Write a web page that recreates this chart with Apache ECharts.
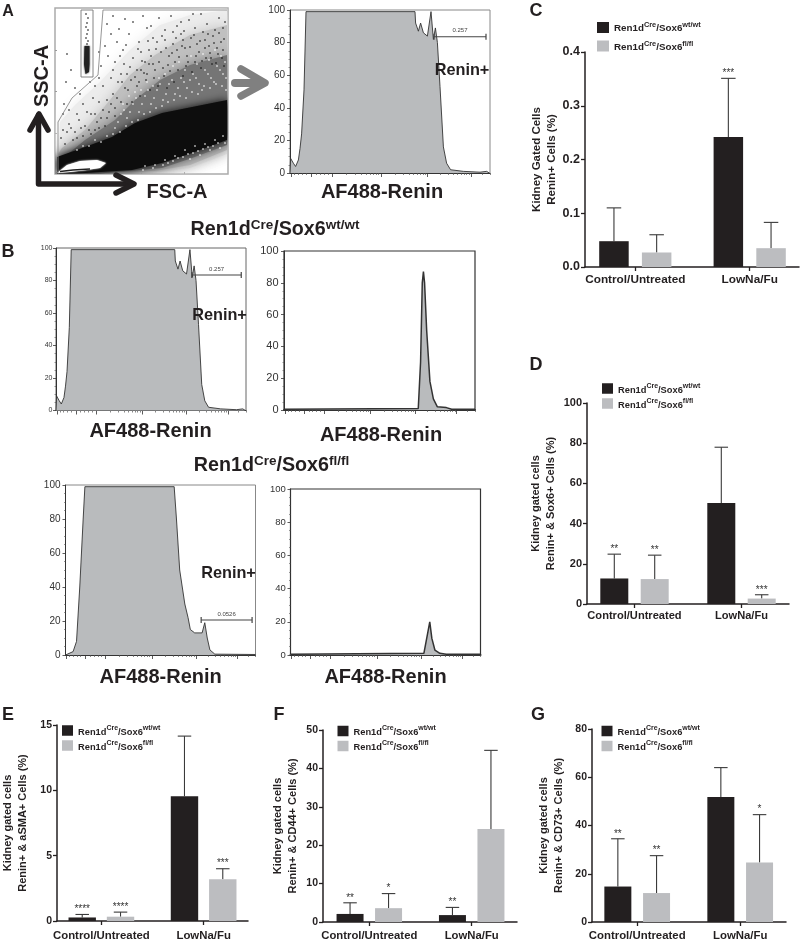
<!DOCTYPE html>
<html><head><meta charset="utf-8">
<style>html,body{margin:0;padding:0;background:#fff}#c{width:800px;height:944px}</style>
<script src="https://cdn.jsdelivr.net/npm/echarts@6/dist/echarts.min.js"></script>
</head><body><div id="c"></div>
<script>
// ---------- DATA ----------
const groups = ['Control/Untreated', 'LowNa/Fu'];
const wtName = 'Ren1d-Cre/Sox6 wt/wt';
const flName = 'Ren1d-Cre/Sox6 fl/fl';

const cWt=[0.048,0.242], cWtErr=[0.11,0.351], cWtSig=['','***'];
const cFl=[0.027,0.035], cFlErr=[0.06,0.083], cFlSig=['',''];
const dWt=[12.7,50.2], dWtErr=[24.8,78], dWtSig=['**',''];
const dFl=[12.4,2.7], dFlErr=[24.3,4.6], dFlSig=['**','***'];
const eWt=[0.27,9.55], eWtErr=[0.5,14.15], eWtSig=['****',''];
const eFl=[0.33,3.2], eFlErr=[0.68,4.0], eFlSig=['****','***'];
const fWt=[2.1,1.8], fWtErr=[5.0,3.8], fWtSig=['**','**'];
const fFl=[3.6,24.2], fFlErr=[7.4,44.7], fFlSig=['*',''];
const gWt=[14.7,51.8], gWtErr=[34.5,64], gWtSig=['**',''];
const gFl=[12.0,24.7], gFlErr=[27.5,44.5], gFlSig=['**','*'];

// histograms: [intensity scale %, % of max]
const histWide=[[0,0],[0.3,9],[1.7,6],[2.8,4],[4.2,8],[5,15],[5.8,24],[7,51],[8,99],[62.5,99],[62.8,92],[64.2,87],[65.3,92],[66.7,86],[68.7,84],[70.5,99],[71.7,82],[72.7,89],[73.7,80],[75,53],[76.7,16],[78.3,6],[80.3,2],[86.7,1],[95,0.5],[98.3,1],[99.7,0],[100,0]];
const histNarrow=[[0,0.5],[70.3,1],[71.5,30],[72.4,80],[73,87],[73.6,80],[74.7,50],[76.4,18],[78.2,7],[80.3,2],[85,1.5],[87.8,0.5],[100,0.5]];
const histWideFl=[[0,0],[4,2],[5.8,8],[7.5,40],[9.3,80],[10.2,99],[57.2,99],[58.4,80],[60.1,50],[62.8,30],[63.3,30],[64.5,22],[65.7,15],[68,13],[71.9,13],[73.3,19],[74.6,10],[76,3],[78.6,0.5],[100,0.3]];
const histNarrowFl=[[0,0.5],[70.2,1],[72,12],[73.3,20],[74.4,10],[76,3],[78.6,1],[82,0.5],[100,0.5]];
const majorTicks=[0.5,10.5,21,45.4,68.6,90.4];
const minorTicks=[2,4,6,8,13,15,17,19,28.3,32.6,35.7,38,40,41.6,43,44.3,52.4,56.5,59.4,61.6,63.5,65,66.4,67.6,75.2,79,81.7,83.8,85.6,87,88.3,89.4,96,100];

// FSC/SSC density regions (FSC, SSC in scale units)
const fsDensity1=[[3,4],[5,52],[20,69],[45,92],[75,124],[105,149],[135,159],[172,164],[172,20],[135,6],[95,1],[3,0]];
const fsDensity2=[[3,20],[7,26],[30,44],[55,74],[75,99],[100,119],[135,139],[172,149],[172,24],[135,9],[100,3],[3,0]];
const fsDensity3=[[3,12],[30,34],[60,54],[80,74],[105,94],[135,109],[172,119],[172,29],[137,16],[107,6],[45,0.5],[3,0]];
const fsCore=[[2,17],[30,27],[57,37],[80,51],[107,61],[137,67],[172,74],[172,34],[137,21],[107,11],[77,4],[30,1],[2,0]];
const fsHole=[[2,1],[12,9],[25,13],[42,14],[51,11],[45,6],[32,4],[15,2]];
const fsHoleLine=[[5,2.5],[18,4],[35,5]];
const fsStreak=[[29.5,128],[34.5,128],[34.5,110],[34,102],[30.5,100],[29,110]];
const gateOuter=[[3,0],[3,52],[17,76],[43,99],[48,164],[172,164]];
const gateBox=[[26,97],[26,164],[38,164],[38,97],[26,97]];
const fsDotsBlack=[[31,160],[33,156],[32,151],[31,147],[33,144],[32,140],[31,136],[33,133],[32,130],[12,120],[16,104],[11,92],[20,86],[9,70],[25,80],[14,64],[22,60],[8,60],[28,70],[35,92],[40,88],[44,96],
[52,150],[58,158],[64,145],[70,155],[62,132],[68,124],[74,140],[78,152],[84,132],[88,158],[92,146],[98,136],[104,156],[110,144],[116,158],[122,148],[128,134],[134,154],[140,146],[146,160],[152,150],[158,138],[164,156],[168,146],
[53,118],[58,104],[63,92],[69,110],[72,100],[78,116],[82,104],[86,122],[90,112],[94,124],[98,110],[102,132],[106,122],[110,134],[114,118],[118,130],[122,124],[126,140],[130,126],[136,136],[142,130],[148,142],[154,128],[160,144],[166,132],[170,152],
[14,50],[20,42],[24,54],[30,48],[36,60],[42,52],[48,64],[52,74],[58,80],[44,72],[38,76],[32,62],[18,34],[10,30],[12,42],[6,36],[28,38],[40,44],[50,48],[66,72],[70,86],[76,94],[60,66],[84,92],[92,100],[100,104],
[96,148],[108,106],[120,112],[132,118],[144,122],[156,116],[168,124],[118,142],[126,152],[138,160],[150,134],[162,126],[46,108],[50,128],[56,140],[44,122],[48,88],[56,96],[60,112],[66,100],
[65,118],[71,129],[75,107],[80,97],[83,125],[87,113],[89,101],[93,133],[96,118],[101,125],[104,112],[107,138],[111,126],[113,109],[117,121],[121,136],[124,117],[127,128],[129,143],[133,112],[135,127],[139,139],[141,118],[145,133],[147,113],[150,126],[153,140],[155,121],[159,131],[161,111],[164,141],[167,116],[169,135],
[62,76],[67,92],[73,84],[77,72],[82,88],[85,78],[91,94],[95,84],[99,96],[103,88],[109,98],[112,86],[115,103],[119,92],[123,104],[128,98],[131,108],[137,102],[140,112],[146,106],[151,116],[157,110],[163,120],[169,108],
[34,44],[26,46],[16,46],[22,36],[8,44],[46,56],[54,62],[40,60],[56,70],[72,70],[86,104],[94,110],[36,40],[44,46],[60,58],[52,56]];
const fsDotsWhite=[[60,46],[66,60],[72,56],[78,70],[84,62],[90,78],[96,70],[102,84],[108,74],[114,90],[120,80],[126,96],[132,86],[138,100],[144,90],[150,104],[156,96],[162,108],[168,100],[170,112],
[110,100],[118,108],[124,112],[130,104],[136,118],[142,110],[148,120],[154,114],[160,124],[166,118],[92,92],[98,88],[104,96],[86,84],[80,82],[74,78],[68,70],[140,28],[150,30],[160,34],[168,38],[130,24],[120,18],[110,14],[100,9],[90,8],[165,26],[155,24],[145,19],[135,15],
[63,52],[69,64],[75,62],[81,76],[87,70],[93,84],[99,76],[105,90],[111,80],[117,94],[123,86],[129,92],[135,94],[141,96],[147,84],[153,100],[159,92],[165,104],[171,96],[113,72],[119,74],[125,78],[131,76],[137,82],[143,80],[149,88],[155,86],[161,90],[167,88],[171,84],
[107,68],[101,66],[95,62],[89,60],[83,54],[77,52],[71,48],[65,42],[58,40],[52,38],[46,32],[40,34],[34,28],[28,28],[22,24],[158,28],[148,25],[138,21],[128,17],[118,13],[108,9],[98,6],[88,4],[170,31],[163,31],[153,27],[143,23],[133,20],[123,16],[113,11]];

// ---------- LAYOUT ----------
const textCol='#231f20', darkBar='#231f20', lightBar='#bcbdc0', histFill='#b9bbbd';
const font='"Liberation Sans", Arial, sans-serif';
const grid=[],xAxis=[],yAxis=[],series=[],legend=[],graphic=[];

function text(t,x,y,size,opts){
  graphic.push({type:'text',x,y,rotation:(opts&&opts.rot)||0,silent:true,z:50,style:Object.assign({text:t,fontFamily:font,fontSize:size,fontWeight:'bold',fill:textCol,textAlign:'center',textVerticalAlign:'middle'},opts&&opts.style)});
}
function poly(points,stroke,width){
  graphic.push({type:'polyline',silent:true,z:40,shape:{points},style:{stroke,lineWidth:width,fill:'none',lineCap:'round',lineJoin:'round'}});
}

function histPanel(p){
  const g=grid.length;
  grid.push({left:p.L,top:p.T,width:p.W,height:p.H,show:true,borderColor:p.border||'#666',borderWidth:p.bw||1,backgroundColor:'#fff'});
  const xi=xAxis.length;
  xAxis.push({type:'value',gridIndex:g,min:0,max:100,position:'bottom',splitLine:{show:false},axisLabel:{show:false},
    axisLine:{show:true,onZero:false,lineStyle:{color:'#333',width:p.base||1}},
    axisTick:{show:true,length:4,customValues:majorTicks,lineStyle:{color:'#333',width:0.8}}});
  xAxis.push({type:'value',gridIndex:g,min:0,max:100,position:'bottom',splitLine:{show:false},axisLabel:{show:false},
    axisLine:{show:false},axisTick:{show:true,length:2,customValues:minorTicks,lineStyle:{color:'#555',width:0.7}}});
  const yi=yAxis.length;
  yAxis.push({type:'value',gridIndex:g,min:0,max:100,interval:20,splitLine:{show:false},
    axisLine:{show:true,onZero:false,lineStyle:{color:'#333',width:1}},
    axisTick:{show:true,length:3,lineStyle:{color:'#333',width:0.8}},
    minorTick:{show:true,splitNumber:4,length:1.5,lineStyle:{color:'#555',width:0.6}},
    axisLabel:{fontFamily:font,fontSize:p.fs,color:'#333',margin:p.fs*0.5}});
  series.push({type:'line',xAxisIndex:xi,yAxisIndex:yi,data:p.data,symbol:'none',lineStyle:{color:'#333',width:p.lineW||0.9},areaStyle:{color:histFill,opacity:1},silent:true,z:3});
  if(p.gate){
    const gt=p.gate;
    series.push({type:'custom',xAxisIndex:xi,yAxisIndex:yi,data:[gt],silent:true,z:5,clip:false,
      encode:{x:[0,1],y:2},
      renderItem:(ctx,api)=>{
        const a=api.coord([api.value(0),api.value(2)]), b=api.coord([api.value(1),api.value(2)]);
        const s={stroke:'#444',lineWidth:1.2};
        return {type:'group',children:[
          {type:'line',shape:{x1:a[0],y1:a[1],x2:b[0],y2:b[1]},style:s},
          {type:'line',shape:{x1:a[0],y1:a[1]-3,x2:a[0],y2:a[1]+3},style:s},
          {type:'line',shape:{x1:b[0],y1:b[1]-3,x2:b[0],y2:b[1]+3},style:s},
          {type:'text',style:{x:(a[0]+b[0])/2,y:a[1]-6,text:p.gateLabel,fontFamily:font,fontSize:6,fill:'#444',textAlign:'center',textVerticalAlign:'middle'}}
        ]};
      }});
  }
}

function barPanel(p){
  const g=grid.length;
  const band=p.c1-p.c0, off=p.spread/2/band;
  const xMin=(p.L-p.c0)/band, xMax=(p.L+p.W-p.c0)/band;
  grid.push({left:p.L,top:p.T,width:p.W,height:p.H,show:false});
  const xi=xAxis.length, yi=yAxis.length;
  xAxis.push({type:'value',gridIndex:g,min:xMin,max:xMax,splitLine:{show:false},
    axisLine:{show:true,onZero:false,lineStyle:{color:textCol,width:1.5}},
    axisTick:{show:true,length:4,customValues:[0,1],lineStyle:{color:textCol,width:1.3}},
    axisLabel:{customValues:[0,1],formatter:v=>groups[Math.round(v)],hideOverlap:false,showMinLabel:true,showMaxLabel:true,
      fontFamily:font,fontWeight:'bold',fontSize:p.xfs,color:textCol,margin:p.xm}});
  yAxis.push({type:'value',gridIndex:g,min:0,max:p.max,interval:p.step,splitLine:{show:false},
    name:p.title,nameLocation:'middle',nameGap:p.nameGap,nameRotate:90,
    nameTextStyle:{fontFamily:font,fontWeight:'bold',fontSize:p.nfs,color:textCol,lineHeight:14.5},
    axisLine:{show:true,onZero:false,lineStyle:{color:textCol,width:1.5}},
    axisTick:{show:true,length:4,lineStyle:{color:textCol,width:1.3}},
    axisLabel:{fontFamily:font,fontWeight:'bold',fontSize:p.yfs,color:textCol,margin:5,
      formatter:p.fmt||(v=>String(v))}});
  const make=(name,col,vals,sign)=>({type:'bar',name,xAxisIndex:xi,yAxisIndex:yi,
    data:vals.map((v,i)=>[i+sign*off,v]),barWidth:p.barW,barGap:'-100%',silent:true,
    itemStyle:{color:col},z:3});
  series.push(make(wtName,darkBar,p.wt,-1),make(flName,lightBar,p.fl,1));
  const errs=(vals,tops,sigs,sign)=>vals.map((v,i)=>[i+sign*off,v,tops[i],sigs[i]]);
  const ed=[...errs(p.wt,p.wtErr,p.wtSig,-1),...errs(p.fl,p.flErr,p.flSig,1)];
  series.push({type:'custom',xAxisIndex:xi,yAxisIndex:yi,silent:true,z:2,clip:false,data:ed,encode:{x:0,y:[1,2]},
    renderItem:(ctx,api)=>{
      const x=api.value(0), a=api.coord([x,api.value(1)]), b=api.coord([x,api.value(2)]);
      const sig=ed[ctx.dataIndex][3];
      const s={stroke:'#3a3a3a',lineWidth:1.1}, hw=p.capW/2;
      const ch=[{type:'line',shape:{x1:a[0],y1:a[1],x2:b[0],y2:b[1]},style:s},
        {type:'line',shape:{x1:b[0]-hw,y1:b[1],x2:b[0]+hw,y2:b[1]},style:s}];
      if(sig) ch.push({type:'text',style:{x:b[0],y:b[1]-5,text:sig,fontFamily:font,fontSize:10,fill:'#333',textAlign:'center',textVerticalAlign:'middle'}});
      return {type:'group',children:ch};
    }});
  legend.push({show:true,left:p.lx,top:p.ly,padding:0,orient:'vertical',itemWidth:p.lw,itemHeight:p.lh,itemGap:p.lgap,selectedMode:false,
    data:[{name:wtName,icon:'rect'},{name:flName,icon:'rect'}],
    formatter:n=>n===wtName?'{a|Ren1d}{s|Cre}{a|/Sox6}{s|wt/wt}':'{a|Ren1d}{s|Cre}{a|/Sox6}{s|fl/fl}',
    textStyle:{fontFamily:font,color:textCol,rich:{
      a:{fontFamily:font,fontWeight:'bold',fontSize:p.lfs,color:textCol,verticalAlign:'bottom',lineHeight:12},
      s:{fontFamily:font,fontWeight:'bold',fontSize:p.lfs*0.75,color:textCol,verticalAlign:'top',lineHeight:8}}}});
}

// ---------- FSC/SSC panel ----------
(function(){
  const g=grid.length;
  grid.push({left:55,top:8,width:173,height:166,show:true,borderColor:'#aaa',borderWidth:1.5,backgroundColor:'#fff'});
  const xi=xAxis.length, yi=yAxis.length;
  xAxis.push({type:'value',gridIndex:g,min:0,max:173,splitLine:{show:false},axisLabel:{show:false},axisLine:{show:false},
    axisTick:{show:true,length:2,customValues:[1,43,86,129],inside:true,lineStyle:{color:'#999'}}});
  yAxis.push({type:'value',gridIndex:g,min:0,max:166,splitLine:{show:false},axisLabel:{show:false},axisLine:{show:false},
    axisTick:{show:true,length:2,customValues:[1,41,83,124],inside:true,lineStyle:{color:'#999'}}});
  const region=(pts,fill,z,blur)=>series.push({type:'custom',xAxisIndex:xi,yAxisIndex:yi,silent:true,z,data:[0],clip:true,
    renderItem:(ctx,api)=>({type:'polygon',shape:{points:pts.map(q=>api.coord(q))},style:{fill,shadowBlur:blur,shadowColor:fill}})});
  region(fsDensity1,'#ececec',2,14);
  region(fsDensity2,'#c0c0c0',2.1,14);
  region(fsDensity3,'#757575',2.2,14);
  region(fsCore,'#0d0d0d',2.3,8);
  region(fsHole,'#ffffff',2.4,2);
  region(fsStreak,'#222222',2.5,2);
  const dots=(d,col,z)=>series.push({type:'scatter',xAxisIndex:xi,yAxisIndex:yi,data:d,symbol:'rect',symbolSize:1.6,silent:true,z,itemStyle:{color:col}});
  dots(fsDotsWhite,'#ffffff',2.6);
  dots(fsDotsBlack,'#111111',2.7);
  const path=(d,col,w,z)=>series.push({type:'line',xAxisIndex:xi,yAxisIndex:yi,data:d,symbol:'none',silent:true,z,lineStyle:{color:col,width:w}});
  path(fsHoleLine,'#222',1.4,2.8);
  path(gateOuter,'#8a8a8a',0.9,2.9);
  path(gateBox,'#777',0.9,2.9);
})();

// ---------- histograms ----------
histPanel({L:290,T:10,W:200,H:163,fs:10,data:histWide,gate:[72,98,83.6],gateLabel:'0.257',border:'#888'});
histPanel({L:56,T:248,W:190,H:162.5,fs:7,data:histWide,gate:[71.5,97.5,83.4],gateLabel:'0.257',border:'#666'});
histPanel({L:284,T:251,W:191,H:159,fs:11,data:histNarrow,border:'#333',bw:1.2,base:2,lineW:1.5});
histPanel({L:65.5,T:485,W:190,H:170,fs:10,data:histWideFl,gate:[71.4,98.2,20.6],gateLabel:'0.0526',border:'#888'});
histPanel({L:290.5,T:489,W:190,H:166,fs:9.5,data:histNarrowFl,border:'#333',bw:1.2,base:2,lineW:1.5});

// ---------- bar panels ----------
barPanel({L:585,T:52,W:214,H:215,c0:635.3,c1:749.7,spread:42.7,barW:29.5,capW:14.5,max:0.4,step:0.1,fmt:v=>v.toFixed(1),
  wt:cWt,wtErr:cWtErr,wtSig:cWtSig,fl:cFl,flErr:cFlErr,flSig:cFlSig,title:'Kidney Gated Cells\nRenin+ Cells (%)',nameGap:26,nfs:11.5,xfs:11.8,yfs:12.5,xm:7,
  lx:597,ly:21.5,lw:12,lh:11,lgap:6.5,lfs:9.8});
barPanel({L:587,T:403,W:202,H:201,c0:634.5,c1:741.5,spread:40.4,barW:28,capW:13.5,max:100,step:20,
  wt:dWt,wtErr:dWtErr,wtSig:dWtSig,fl:dFl,flErr:dFlErr,flSig:dFlSig,title:'Kidney gated cells\nRenin+ & Sox6+ Cells (%)',nameGap:29,nfs:11,xfs:11.1,yfs:11,xm:6,
  lx:602,ly:382.5,lw:11,lh:10.5,lgap:3,lfs:9.3});
barPanel({L:53,T:725,W:195,H:196,c0:98.3,c1:202.7,spread:39.1,barW:27.4,capW:13.5,max:15,step:5,
  wt:eWt,wtErr:eWtErr,wtSig:eWtSig,fl:eFl,flErr:eFlErr,flSig:eFlSig,title:'Kidney gated cells\nRenin+ & aSMA+ Cells (%)',nameGap:27,nfs:11,xfs:11.4,yfs:10.5,xm:9,
  lx:62,ly:724.5,lw:11,lh:10.5,lgap:3,lfs:9.3});
barPanel({L:323,T:730,W:194,H:192,c0:369.3,c1:471.7,spread:38.5,barW:27,capW:13.5,max:50,step:10,
  wt:fWt,wtErr:fWtErr,wtSig:fWtSig,fl:fFl,flErr:fFlErr,flSig:fFlSig,title:'Kidney gated cells\nRenin+ & CD44+ Cells (%)',nameGap:23,nfs:11,xfs:11.3,yfs:10.5,xm:8,
  lx:337.5,ly:725,lw:11,lh:10.5,lgap:3,lfs:9.3});
barPanel({L:592,T:729,W:194,H:193,c0:637.2,c1:740.2,spread:38.7,barW:27,capW:13.5,max:80,step:20,
  wt:gWt,wtErr:gWtErr,wtSig:gWtSig,fl:gFl,flErr:gFlErr,flSig:gFlSig,title:'Kidney gated cells\nRenin+ & CD73+ Cells (%)',nameGap:26,nfs:11,xfs:11.4,yfs:10.5,xm:8,
  lx:601.5,ly:725,lw:11,lh:10.5,lgap:3,lfs:9.3});

// ---------- annotations ----------
[['A',8,12,16],['B',8,252,18],['C',536,11,18],['D',536,365,18],['E',8,715,18],['F',279,715,18],['G',538,715,18]]
  .forEach(a=>text(a[0],a[1],a[2],a[3]));
text('SSC-A',42,76,20,{rot:Math.PI/2});
text('FSC-A',177,192,20);
[[382,192.5],[150.5,431.5],[381,435],[160.7,677.5],[385.5,677.5]].forEach(a=>text('AF488-Renin',a[0],a[1],20));
[[462,71],[219.5,316],[228.5,573.5]].forEach(a=>text('Renin+',a[0],a[1],16.3));
const titleRich={a:{fontFamily:font,fontWeight:'bold',fontSize:19.7,fill:textCol,color:textCol,verticalAlign:'bottom',lineHeight:21},
  s:{fontFamily:font,fontWeight:'bold',fontSize:13.5,fill:textCol,color:textCol,verticalAlign:'top',lineHeight:15}};
text('{a|Ren1d}{s|Cre}{a|/Sox6}{s|wt/wt}',275,229,18,{style:{rich:titleRich}});
text('{a|Ren1d}{s|Cre}{a|/Sox6}{s|fl/fl}',271.5,465,18,{style:{rich:titleRich}});
poly([[38.5,115],[38.5,184],[132,184]],'#231f20',5.5);
poly([[30,130],[39,114],[48,130]],'#231f20',5.5);
poly([[116,175],[134,184],[116,193]],'#231f20',5.5);
poly([[235,83],[262,83]],'#808080',8);
poly([[241,69],[265,83],[241,96]],'#808080',7.5);

const chart=echarts.init(document.getElementById('c'),null,{renderer:'canvas'});
chart.setOption({animation:false,backgroundColor:'#fff',tooltip:{show:false},grid,xAxis,yAxis,series,legend,graphic});
</script></body></html>
